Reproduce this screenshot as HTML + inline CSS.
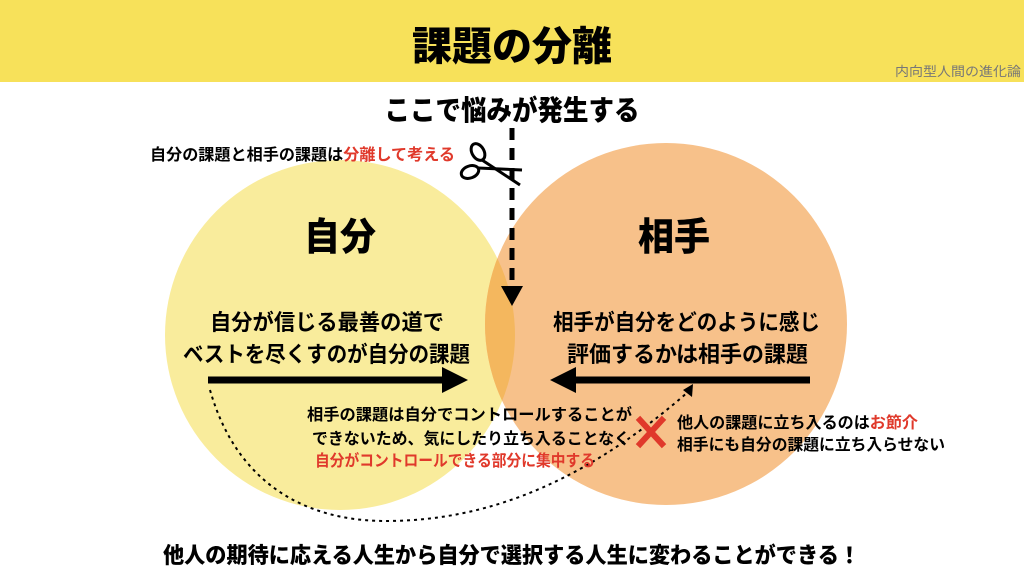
<!DOCTYPE html>
<html><head><meta charset="utf-8"><style>
html,body{margin:0;padding:0;background:#fff;}
svg{display:block;font-family:"Liberation Sans","Noto Sans CJK JP",sans-serif;}
</style></head><body>
<svg width="1024" height="576" viewBox="0 0 1024 576" xmlns="http://www.w3.org/2000/svg">
<rect x="0" y="0" width="1024" height="82" fill="#f7e15a"/>
<text x="512" y="60" font-size="40" font-weight="900" text-anchor="middle" textLength="200" lengthAdjust="spacingAndGlyphs">課題の分離</text>
<text x="958" y="76" font-size="13" fill="#777" text-anchor="middle" textLength="126" lengthAdjust="spacingAndGlyphs">内向型人間の進化論</text>

<defs><clipPath id="cl"><circle cx="340" cy="335" r="175"/></clipPath></defs>
<circle cx="340" cy="335" r="175" fill="#f9ec9c"/>
<circle cx="666" cy="324" r="181" fill="#f7c18a"/>
<circle cx="666" cy="324" r="181" fill="#f4b75e" clip-path="url(#cl)"/>

<text x="512" y="120" font-size="28" font-weight="900" text-anchor="middle" textLength="255" lengthAdjust="spacingAndGlyphs">ここで悩みが発生する</text>
<text x="150" y="160" font-size="16" font-weight="bold" textLength="305" lengthAdjust="spacingAndGlyphs">自分の課題と相手の課題は<tspan fill="#e0392b">分離して考える</tspan></text>

<line x1="512" y1="128" x2="512" y2="288" stroke="#000" stroke-width="5" stroke-dasharray="12,8"/>
<polygon points="501,286 523,286 512,306" fill="#000"/>
<g stroke="#000" stroke-width="3" fill="none">
<ellipse cx="478" cy="152" rx="6" ry="9" transform="rotate(-30 478 152)"/>
<ellipse cx="470" cy="172" rx="9" ry="6" transform="rotate(-20 470 172)"/>
<line x1="482" y1="160" x2="520" y2="185"/>
<line x1="478" y1="168" x2="522" y2="170"/>
</g>

<text x="340" y="250" font-size="38" font-weight="900" text-anchor="middle" textLength="72" lengthAdjust="spacingAndGlyphs">自分</text>
<text x="674" y="250" font-size="38" font-weight="900" text-anchor="middle" textLength="72" lengthAdjust="spacingAndGlyphs">相手</text>

<text x="210" y="330" font-size="22" font-weight="bold" textLength="234" lengthAdjust="spacingAndGlyphs">自分が信じる最善の道で</text>
<text x="183" y="362" font-size="22" font-weight="bold" textLength="287" lengthAdjust="spacingAndGlyphs">ベストを尽くすのが自分の課題</text>
<text x="553" y="330" font-size="22" font-weight="bold" textLength="267" lengthAdjust="spacingAndGlyphs">相手が自分をどのように感じ</text>
<text x="567" y="362" font-size="22" font-weight="bold" textLength="241" lengthAdjust="spacingAndGlyphs">評価するかは相手の課題</text>

<line x1="208" y1="380" x2="446" y2="380" stroke="#000" stroke-width="7"/>
<polygon points="442,367 468,380 442,393" fill="#000"/>
<line x1="810" y1="380" x2="572" y2="380" stroke="#000" stroke-width="7"/>
<polygon points="576,367 550,380 576,393" fill="#000"/>

<path d="M210,390 C240,495 320,521 385,521 C470,521 570,495 688,392" fill="none" stroke="#000" stroke-width="2" stroke-dasharray="3,4"/>
<polygon points="683,390 693,384 692,397" fill="#000"/>

<text x="307" y="420" font-size="16" font-weight="bold" textLength="325" lengthAdjust="spacingAndGlyphs">相手の課題は自分でコントロールすることが</text>
<text x="312" y="444" font-size="16" font-weight="bold" textLength="318" lengthAdjust="spacingAndGlyphs">できないため、気にしたり立ち入ることなく</text>
<text x="315" y="466" font-size="16" font-weight="bold" fill="#e0392b" textLength="280" lengthAdjust="spacingAndGlyphs">自分がコントロールできる部分に集中する</text>

<g stroke="#e0392b" stroke-width="6" stroke-linecap="square">
<line x1="640" y1="420" x2="662" y2="444"/><line x1="662" y1="420" x2="640" y2="444"/>
</g>
<text x="677" y="428" font-size="16" font-weight="bold" textLength="241" lengthAdjust="spacingAndGlyphs">他人の課題に立ち入るのは<tspan fill="#e0392b">お節介</tspan></text>
<text x="677" y="450" font-size="16" font-weight="bold" textLength="268" lengthAdjust="spacingAndGlyphs">相手にも自分の課題に立ち入らせない</text>

<text x="163" y="563" font-size="22" font-weight="900" textLength="697" lengthAdjust="spacingAndGlyphs">他人の期待に応える人生から自分で選択する人生に変わることができる！</text>
</svg>
</body></html>
